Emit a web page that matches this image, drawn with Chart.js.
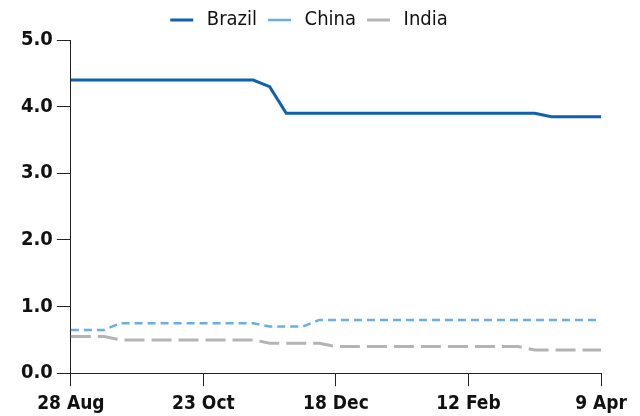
<!DOCTYPE html>
<html>
<head>
<meta charset="utf-8">
<script src="https://cdn.jsdelivr.net/npm/chart.js@4"></script>
<style>
  html, body { margin: 0; padding: 0; background: #fff; }
  #wrap { width: 640px; height: 416px; }
</style>
</head>
<body>
<div id="wrap"><canvas id="chart"></canvas></div>
<script>
// weekly dates, 28 Aug .. 9 Apr
const weeks = ['28 Aug', '4 Sep', '11 Sep', '18 Sep', '25 Sep', '2 Oct', '9 Oct', '16 Oct',
    '23 Oct', '30 Oct', '6 Nov', '13 Nov', '20 Nov', '27 Nov', '4 Dec', '11 Dec',
    '18 Dec', '25 Dec', '1 Jan', '8 Jan', '15 Jan', '22 Jan', '29 Jan', '5 Feb',
    '12 Feb', '19 Feb', '26 Feb', '5 Mar', '12 Mar', '19 Mar', '26 Mar', '2 Apr', '9 Apr'];

const brazil = [4.4, 4.4, 4.4, 4.4, 4.4, 4.4, 4.4, 4.4, 4.4, 4.4, 4.4, 4.4, 4.3, 3.9, 3.9, 3.9,
    3.9, 3.9, 3.9, 3.9, 3.9, 3.9, 3.9, 3.9, 3.9, 3.9, 3.9, 3.9, 3.9, 3.85, 3.85, 3.85, 3.85];
const china = [0.65, 0.65, 0.65, 0.75, 0.75, 0.75, 0.75, 0.75, 0.75, 0.75, 0.75, 0.75, 0.7, 0.7, 0.7, 0.8,
    0.8, 0.8, 0.8, 0.8, 0.8, 0.8, 0.8, 0.8, 0.8, 0.8, 0.8, 0.8, 0.8, 0.8, 0.8, 0.8, 0.8];
const india = [0.55, 0.55, 0.55, 0.5, 0.5, 0.5, 0.5, 0.5, 0.5, 0.5, 0.5, 0.5, 0.45, 0.45, 0.45, 0.45,
    0.4, 0.4, 0.4, 0.4, 0.4, 0.4, 0.4, 0.4, 0.4, 0.4, 0.4, 0.4, 0.35, 0.35, 0.35, 0.35, 0.35];

const axisColor = '#222';
const fontFamily = '"DejaVu Sans Condensed", "DejaVu Sans", sans-serif';

new Chart(document.getElementById('chart'), {
    type: 'line',
    data: {
        labels: weeks,
        datasets: [
            { label: 'Brazil', data: brazil, borderColor: '#0f60ae', borderWidth: 3 },
            { label: 'China', data: china, borderColor: '#6aaee2', borderWidth: 2.5, borderDash: [8, 5] },
            { label: 'India', data: india, borderColor: '#b4b4b4', borderWidth: 3, borderDash: [20, 7] }
        ]
    },
    options: {
        responsive: true,
        maintainAspectRatio: false,
        animation: false,
        layout: { padding: { left: 17, right: 39, top: -1, bottom: -5 } },
        elements: {
            point: { radius: 0 },
            line: { tension: 0 }
        },
        scales: {
            x: {
                offset: false,
                afterBuildTicks: scale => {
                    scale.ticks = scale.ticks.filter(t => t.value % 8 === 0);
                },
                ticks: {
                    autoSkip: false,
                    maxRotation: 0,
                    color: '#111',
                    padding: 6,
                    font: { family: fontFamily, size: 19, weight: 'bold' }
                },
                grid: { drawOnChartArea: false, tickLength: 13, color: axisColor },
                border: { color: axisColor, width: 1 }
            },
            y: {
                min: 0,
                max: 5,
                ticks: {
                    stepSize: 1,
                    color: '#111',
                    padding: 4,
                    callback: v => v.toFixed(1),
                    font: { family: fontFamily, size: 20, weight: 'bold' }
                },
                grid: { drawOnChartArea: false, tickLength: 14, color: axisColor },
                border: { color: axisColor, width: 1 }
            }
        },
        plugins: {
            legend: {
                position: 'top',
                labels: {
                    usePointStyle: true,
                    pointStyle: 'line',
                    pointStyleWidth: 23,
                    color: '#111',
                    padding: 11,
                    font: { family: fontFamily, size: 20 },
                    // a thin space widens the gap between the line and the name
                    generateLabels: chart => Chart.defaults.plugins.legend.labels.generateLabels(chart)
                        .map(item => ({ ...item, text: '\u2009' + item.text }))
                }
            },
            tooltip: { enabled: false }
        }
    }
});
</script>
</body>
</html>
